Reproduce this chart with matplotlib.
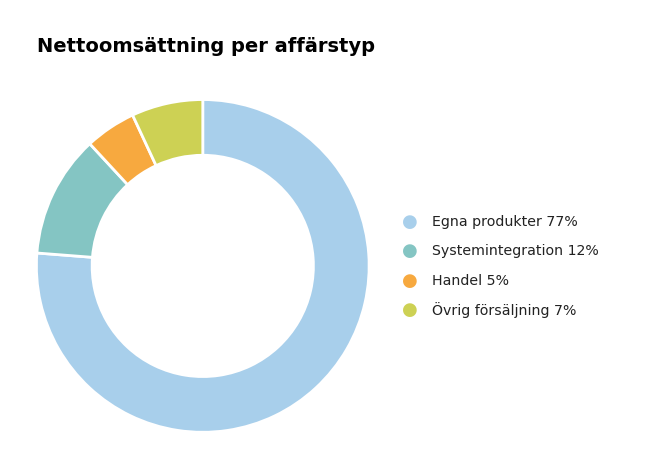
import matplotlib.pyplot as plt

labels = ['Egna produkter 77%', 'Systemintegration 12%', 'Handel 5%', 'Övrig försäljning 7%']
values = [77, 12, 5, 7]
colors = ['#a8cfeb', '#84c5c3', '#f7a93f', '#cdd154']

fig = plt.figure(figsize=(6.67, 4.74), dpi=100)
ax = fig.add_axes([0.304 - 0.252, 0.439 - 0.3545, 0.504, 0.709])
ax.pie(values, colors=colors, startangle=90, counterclock=False,
       wedgeprops=dict(width=0.335, edgecolor='white', linewidth=2))
ax.set_aspect('equal')
ax.set_xlim(-1.01, 1.01)
ax.set_ylim(-1.01, 1.01)

fig.text(37 / 667, 1 - 47 / 474, 'Nettoomsättning per affärstyp',
         fontsize=14, fontweight='bold', va='center', ha='left')

ys = [222, 251, 281, 310]
for lab, c, y in zip(labels, colors, ys):
    fy = 1 - y / 474
    fig.text(410 / 667, fy, '●', color=c, fontsize=13, ha='center', va='center')
    fig.text(432 / 667, fy, lab, fontsize=10.2, ha='left', va='center', color='#222222')

fig.savefig('out.png', dpi=100)
